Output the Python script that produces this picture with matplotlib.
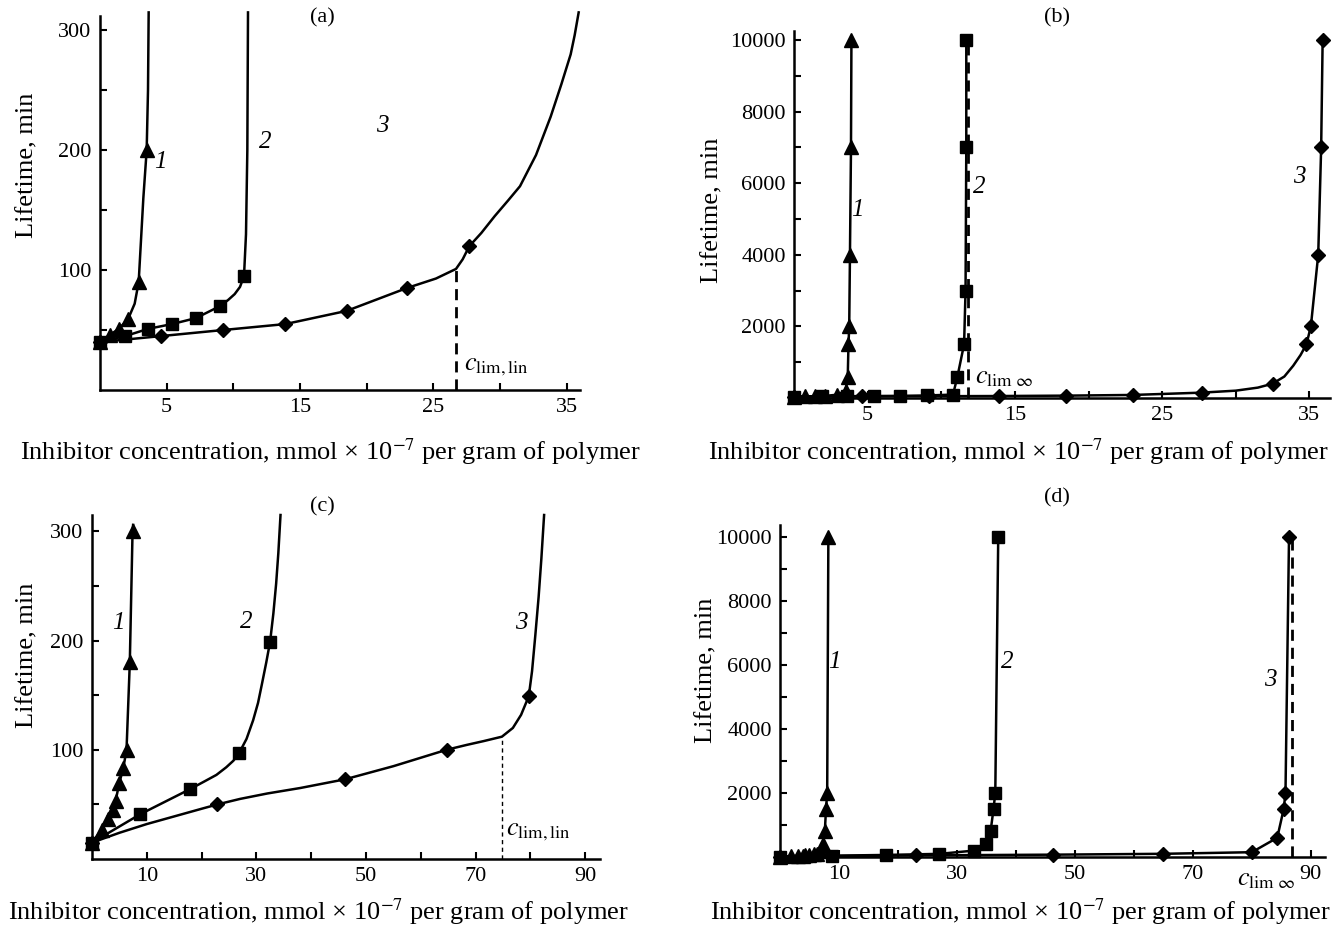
import matplotlib
matplotlib.use('Agg')
import matplotlib.pyplot as plt
from matplotlib.ticker import FixedLocator, FixedFormatter

plt.rcParams['font.family'] = ['Liberation Serif', 'DejaVu Serif']
plt.rcParams['mathtext.fontset'] = 'stix'

# ---------------- Panel (a) ----------------
a1_mx = [0, 0.75, 1.4, 2.1, 2.9, 3.5]
a1_my = [40, 46, 51, 59, 90, 200]
a1_lx = [0, 0.75, 1.4, 2.1, 2.6, 2.9, 3.05, 3.25, 3.5, 3.6, 3.65]
a1_ly = [40, 46, 51, 59, 72, 90, 120, 160, 200, 250, 315]
a2_mx = [0, 1.9, 3.6, 5.4, 7.2, 9.0, 10.8]
a2_my = [40, 45, 51, 55, 60, 70, 95]
a2_lx = [0, 1.9, 3.6, 5.4, 7.2, 9.0, 9.6, 10.1, 10.5, 10.8, 10.95, 11.05, 11.1]
a2_ly = [40, 45, 51, 55, 60, 70, 75, 80, 86, 95, 130, 200, 315]
a3_mx = [0, 4.6, 9.2, 13.9, 18.5, 23.0, 27.7]
a3_my = [40, 45, 50, 55, 66, 85, 120]
a3_lx = [0, 4.6, 9.2, 13.9, 18.5, 23.0, 25.2, 26.7, 27.2, 27.7, 28.6, 29.6, 30.6,
         31.5, 32.7, 33.8, 34.6, 35.3, 35.6, 35.9]
a3_ly = [40, 45, 50, 55, 66, 85, 93, 101, 109, 120, 131, 145, 158,
         170, 196, 228, 255, 280, 296, 315]
a_clim = 26.7
a_clim_top = 101
a_xticks = [5, 10, 15, 20, 25, 30, 35]
a_xticklabels = ['5', '', '15', '', '25', '', '35']
a_yticks = [50, 100, 150, 200, 250, 300]
a_yticklabels = ['', '100', '', '200', '', '300']

# ---------------- Panel (b) ----------------
b1_x = [0, 0.75, 1.4, 2.1, 2.9, 3.5, 3.65, 3.7, 3.75, 3.8, 3.87, 3.9]
b1_y = [40, 46, 51, 59, 90, 200, 600, 1500, 2000, 4000, 7000, 10000]
b2_x = [0, 1.9, 3.6, 5.4, 7.2, 9.0, 10.8, 11.1, 11.55, 11.65, 11.7, 11.7]
b2_y = [40, 45, 51, 55, 60, 70, 95, 600, 1500, 3000, 7000, 10000]
b3_mx = [0, 4.6, 9.2, 13.9, 18.5, 23.0, 27.7, 32.5, 34.8, 35.1, 35.6, 35.8, 35.9]
b3_my = [40, 45, 50, 55, 66, 85, 150, 400, 1500, 2000, 4000, 7000, 10000]
b3_lx = [0, 4.6, 9.2, 13.9, 18.5, 23.0, 27.7, 30.0, 31.5, 32.5, 33.3, 33.9, 34.4,
         34.8, 35.1, 35.6, 35.8, 35.9]
b3_ly = [40, 45, 50, 55, 66, 85, 150, 205, 290, 400, 600, 900, 1200,
         1500, 2000, 4000, 7000, 10000]
b_clim = 11.85
b_clim_top = 10000
b_xticks = [5, 10, 15, 20, 25, 30, 35]
b_xticklabels = ['5', '', '15', '', '25', '', '35']
b_yticks = [1000, 2000, 3000, 4000, 5000, 6000, 7000, 8000, 9000, 10000]
b_yticklabels = ['', '2000', '', '4000', '', '6000', '', '8000', '', '10000']

# ---------------- Panel (c) ----------------
c1_mx = [0, 1.8, 3.0, 3.9, 4.3, 5.0, 5.7, 6.3, 6.9, 7.4]
c1_my = [15, 27, 37, 45, 53, 70, 83, 100, 180, 300]
c1_lx = [0, 1.8, 3.0, 3.9, 4.3, 5.0, 5.7, 6.3, 6.9, 7.4, 7.5]
c1_ly = [15, 27, 37, 45, 53, 70, 83, 100, 180, 300, 306]
c2_mx = [0, 8.8, 17.9, 26.9, 32.5]
c2_my = [15, 41, 64, 97.5, 199]
c2_lx = [0, 8.8, 17.9, 20.5, 22.7, 24.5, 25.8, 26.9, 28.2, 29.4, 30.3, 31.0,
         31.8, 32.5, 33.1, 33.6, 34.0, 34.4]
c2_ly = [15, 41, 64, 71, 77, 84, 90, 97.5, 110, 127, 143, 160,
         180, 199, 225, 252, 280, 315]
c3_mx = [0, 22.9, 46.2, 64.7, 79.7]
c3_my = [15, 50, 73, 100, 149]
c3_lx = [0, 5, 10, 15, 20, 22.9, 27, 32, 38, 46.2, 55, 64.7, 68.4, 71.5, 74.8,
         76.8, 78.3, 79.7, 80.3, 80.9, 81.5, 82.0, 82.5]
c3_ly = [15, 24, 32, 39, 46, 50, 55, 60, 65, 73, 85, 100, 104.5, 108, 112,
         120, 132, 149, 172, 205, 240, 275, 315]
c_clim = 74.8
c_clim_top = 112
c_xticks = [10, 20, 30, 40, 50, 60, 70, 80, 90]
c_xticklabels = ['10', '', '30', '', '50', '', '70', '', '90']
c_yticks = [50, 100, 150, 200, 250, 300]
c_yticklabels = ['', '100', '', '200', '', '300']

# ---------------- Panel (d) ----------------
d1_x = [0, 1.8, 3.0, 3.9, 4.3, 5.0, 5.7, 6.3, 6.9, 7.3, 7.6, 7.8, 8.0, 8.2]
d1_y = [15, 27, 37, 45, 53, 70, 83, 100, 180, 400, 800, 1500, 2000, 10000]
d2_x = [0, 8.8, 17.9, 27.0, 32.9, 34.9, 35.7, 36.2, 36.5, 37.0]
d2_y = [15, 41, 64, 98, 200, 400, 800, 1500, 2000, 10000]
d3_x = [0, 23.0, 46.3, 65.0, 80.0, 84.3, 85.4, 85.7, 86.3]
d3_y = [15, 50, 73, 100, 150, 600, 1500, 2000, 10000]
d_clim = 86.8
d_clim_top = 10000
d_xticks = [10, 20, 30, 40, 50, 60, 70, 80, 90]
d_xticklabels = ['10', '', '30', '', '50', '', '70', '', '90']
d_yticks = [1000, 2000, 3000, 4000, 5000, 6000, 7000, 8000, 9000, 10000]
d_yticklabels = ['', '2000', '', '4000', '', '6000', '', '8000', '', '10000']

XLABEL = 'Inhibitor concentration, mmol \u00d7 10$^{-7}$ per gram of polymer'
YLABEL = 'Lifetime, min'

W, H = 1333, 927
fig = plt.figure(figsize=(W / 100, H / 100), dpi=100)


def px_axes(l, r, t, b):
    return fig.add_axes([l / W, 1 - b / H, (r - l) / W, (b - t) / H])


LW = 1.8
MS = 8.5
FS_TICK = 16
FS_LAB = 19


def style(ax, xlim, ylim, xt, xtl, yt, ytl):
    ax.set_xlim(*xlim)
    ax.set_ylim(*ylim)
    for s in ('top', 'right'):
        ax.spines[s].set_visible(False)
    for s in ('left', 'bottom'):
        ax.spines[s].set_linewidth(1.8)
    ax.xaxis.set_major_locator(FixedLocator(xt))
    ax.xaxis.set_major_formatter(FixedFormatter(xtl))
    ax.yaxis.set_major_locator(FixedLocator(yt))
    ax.yaxis.set_major_formatter(FixedFormatter(ytl))
    ax.tick_params(direction='in', length=5, width=1.5, labelsize=FS_TICK, pad=6)


def curve(ax, lx, ly, mx, my, marker, ms):
    ax.plot(lx, ly, '-', color='black', lw=LW, clip_on=False, zorder=2,
            solid_joinstyle='round')
    ax.plot(mx, my, linestyle='none', marker=marker, ms=ms, color='black',
            clip_on=False, zorder=3)


def num(ax, x, y, s):
    ax.text(x, y, s, fontsize=18, style='italic', ha='center', va='center')


# ---- (a)
ax = px_axes(100, 580, 16, 390)
style(ax, (0, 36), (0, 312), a_xticks, a_xticklabels, a_yticks, a_yticklabels)
curve(ax, a1_lx, a1_ly, a1_mx, a1_my, '^', MS + 1)
curve(ax, a2_lx, a2_ly, a2_mx, a2_my, 's', MS)
curve(ax, a3_lx, a3_ly, a3_mx, a3_my, 'D', MS - 1.5)
ax.plot([a_clim, a_clim], [0, a_clim_top], '--', color='black', lw=2, dashes=(4, 2.5))
ax.text(27.3, 17, r'$c_{\rm lim,lin}$', fontsize=19, ha='left', va='baseline')
num(ax, 4.5, 190, '1')
num(ax, 12.4, 207, '2')
num(ax, 21.2, 220, '3')

# ---- (b)
ax = px_axes(794, 1330, 31, 398)
style(ax, (0, 36.4), (0, 10250), b_xticks, b_xticklabels, b_yticks, b_yticklabels)
curve(ax, b1_x, b1_y, b1_x, b1_y, '^', MS + 1)
curve(ax, b2_x, b2_y, b2_x, b2_y, 's', MS)
curve(ax, b3_lx, b3_ly, b3_mx, b3_my, 'D', MS - 1.5)
ax.plot([b_clim, b_clim], [0, b_clim_top], '--', color='black', lw=2, dashes=(4, 2.5))
ax.text(12.3, 560, r'$c_{\rm lim\ \infty}$', fontsize=19, ha='left', va='center')
num(ax, 4.3, 5260, '1')
num(ax, 12.6, 5880, '2')
num(ax, 34.3, 6160, '3')

# ---- (c)
ax = px_axes(92, 600, 515, 859)
style(ax, (0, 92.7), (0, 315), c_xticks, c_xticklabels, c_yticks, c_yticklabels)
curve(ax, c1_lx, c1_ly, c1_mx, c1_my, '^', MS + 1)
curve(ax, c2_lx, c2_ly, c2_mx, c2_my, 's', MS)
curve(ax, c3_lx, c3_ly, c3_mx, c3_my, 'D', MS - 1.5)
ax.plot([c_clim, c_clim], [0, c_clim_top], '--', color='black', lw=1, dashes=(3, 2.5))
ax.text(75.6, 25, r'$c_{\rm lim,lin}$', fontsize=19, ha='left', va='center')
num(ax, 4.8, 216, '1')
num(ax, 28.1, 217, '2')
num(ax, 78.3, 216, '3')

# ---- (d)
ax = px_axes(780, 1325, 525, 857)
style(ax, (0, 92.4), (0, 10375), d_xticks, d_xticklabels, d_yticks, d_yticklabels)
curve(ax, d1_x, d1_y, d1_x, d1_y, '^', MS + 1)
curve(ax, d2_x, d2_y, d2_x, d2_y, 's', MS)
curve(ax, d3_x, d3_y, d3_x, d3_y, 'D', MS - 1.5)
ax.plot([d_clim, d_clim], [0, d_clim_top], '--', color='black', lw=2, dashes=(4, 2.5))
ax.text(82.4, -0.035, r'$c_{\rm lim\ \infty}$', fontsize=19, ha='center', va='top',
        transform=ax.get_xaxis_transform())
num(ax, 9.3, 6080, '1')
num(ax, 38.5, 6080, '2')
num(ax, 83.2, 5520, '3')

# panel letters, axis titles
for (x, y, s) in [(322, 18, '(a)'), (1057, 18, '(b)'), (322, 507, '(c)'), (1057, 498, '(d)')]:
    fig.text(x / W, 1 - y / H, s, fontsize=FS_TICK, ha='center', va='center')
for (x, y) in [(330, 452), (1018, 452), (318, 912), (1020, 912)]:
    fig.text(x / W, 1 - y / H, XLABEL, fontsize=FS_LAB, ha='center', va='center')
for (x, y) in [(27, 165), (712, 210), (27, 655), (706, 670)]:
    fig.text(x / W, 1 - y / H, YLABEL, fontsize=FS_LAB, ha='center', va='center', rotation=90)

fig.savefig('out.png', dpi=100)
